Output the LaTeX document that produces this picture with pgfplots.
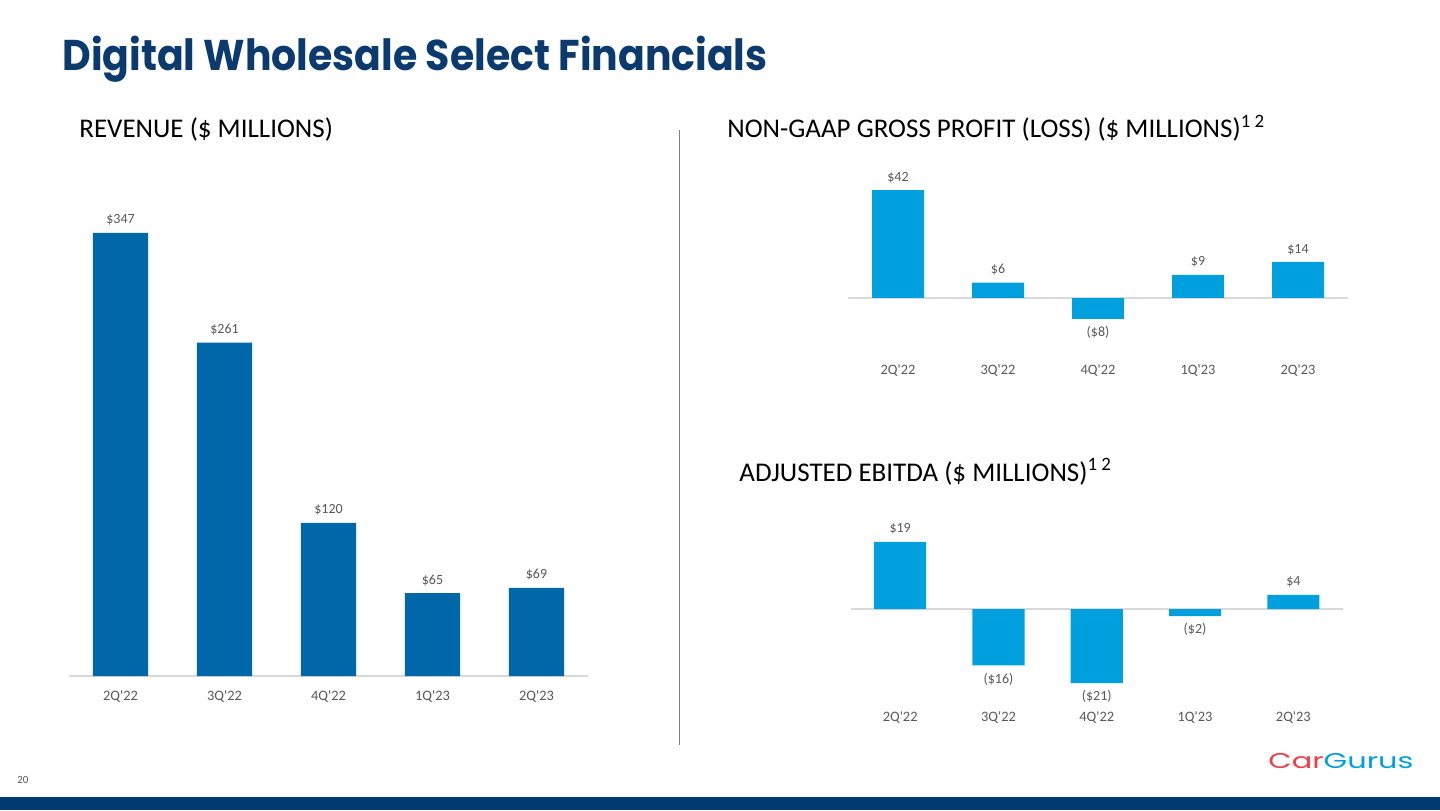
\documentclass[border=0pt]{standalone}
\usepackage{pgfplots}
\pgfplotsset{compat=1.18}
\usepackage{fontspec}
\usepackage{graphicx}
\setmainfont{Carlito}
\newfontfamily\titlefont{Poppins}
\definecolor{navy}{HTML}{0B3A6E}
\definecolor{band}{HTML}{003A70}
\definecolor{revblue}{HTML}{0068A8}
\definecolor{lightblue}{HTML}{00A0DF}
\definecolor{labgray}{HTML}{595959}
\definecolor{zerogray}{HTML}{D9D9D9}
\definecolor{cgred}{HTML}{EF3E4A}
\definecolor{cgblue}{HTML}{00A0E0}
\pgfplotsset{
 panel/.style={scale only axis, anchor=south west, xmin=-0.5, xmax=4.5,
  axis lines*=left, axis line style={draw=none}, ytick=\empty,
  xtick={0,1,2,3,4},
  xticklabels={2Q\textquotesingle22,3Q\textquotesingle22,4Q\textquotesingle22,1Q\textquotesingle23,2Q\textquotesingle23},
  major tick length=0pt,
  xticklabel style={anchor=center, font=\fontsize{7.2}{8}\selectfont, text=labgray},
  ybar, bar shift=0pt, clip=false, nodes near coords, point meta=explicit symbolic,
  every node near coord/.append style={font=\fontsize{7}{8}\selectfont, text=labgray, inner xsep=0pt, inner ysep=3.5pt}},
 neg/.style={every node near coord/.append style={anchor=north}}
}
\begin{document}
\begin{tikzpicture}
\fill[white] (0,0) rectangle (720pt,405pt);
\fill[band] (0,0) rectangle (720pt,6.65pt);
\node[anchor=base west, inner sep=0, text=navy] at (31pt,369.65pt)
  {\resizebox{352.5pt}{\height}{\titlefont\bfseries\fontsize{21.5}{24}\selectfont Digital Wholesale Select Financials}};
\node[anchor=base west, inner sep=0] at (39.5pt,336.25pt) {\fontsize{13.5}{15}\selectfont REVENUE (\$ MILLIONS)};
\node[anchor=base west, inner sep=0] at (363.5pt,336.25pt) {\fontsize{13.5}{15}\selectfont NON-GAAP GROSS PROFIT (LOSS) (\$ MILLIONS)\textsuperscript{1 2}};
\node[anchor=base west, inner sep=0] at (369.5pt,164.5pt) {\fontsize{13.5}{15}\selectfont ADJUSTED EBITDA (\$ MILLIONS)\textsuperscript{1 2}};
\draw[gray, line width=0.5pt] (339.5pt,340pt) -- (339.5pt,32.5pt);
\node[anchor=base west, inner sep=0, text=labgray] at (8.5pt,13.5pt) {\fontsize{5.5}{6}\selectfont 20};
\node[anchor=base west, inner sep=0] at (634pt,21pt)
  {\resizebox{72.5pt}{\height}{\titlefont\fontsize{10.7}{12}\selectfont\textcolor{cgred}{Car}\textcolor{cgblue}{Gurus}}};

\begin{axis}[panel, at={(34.25pt,56.5pt)}, width=260pt, height=268.5pt,
  ymin=-16.44, ymax=404.1, bar width=0.529]
\draw[zerogray, line width=0.6pt] (-0.5,0) -- (4.5,0);
\addplot[fill=revblue, draw=none] coordinates {(0,347) [\$347] (1,261) [\$261] (2,120) [\$120] (3,65) [\$65] (4,69) [\$69]};
\end{axis}

\begin{axis}[panel, at={(424pt,219.5pt)}, width=250pt, height=105.5pt,
  ymin=-28.4, ymax=53.68, bar width=0.52]
\draw[zerogray, line width=0.6pt] (-0.5,0) -- (4.5,0);
\addplot[fill=lightblue, draw=none] coordinates {(0,42) [\$42] (1,6) [\$6] (3,9) [\$9] (4,14) [\$14]};
\addplot[fill=lightblue, draw=none, neg] coordinates {(2,-8) [(\$8)]};
\end{axis}

\begin{axis}[panel, at={(425.5pt,46pt)}, width=245.75pt, height=104pt,
  ymin=-30.88, ymax=28.05, bar width=0.53]
\draw[zerogray, line width=0.6pt] (-0.5,0) -- (4.5,0);
\addplot[fill=lightblue, draw=none] coordinates {(0,19) [\$19] (4,4) [\$4]};
\addplot[fill=lightblue, draw=none, neg] coordinates {(1,-16) [(\$16)] (2,-21) [(\$21)] (3,-2) [(\$2)]};
\end{axis}
\end{tikzpicture}
\end{document}
